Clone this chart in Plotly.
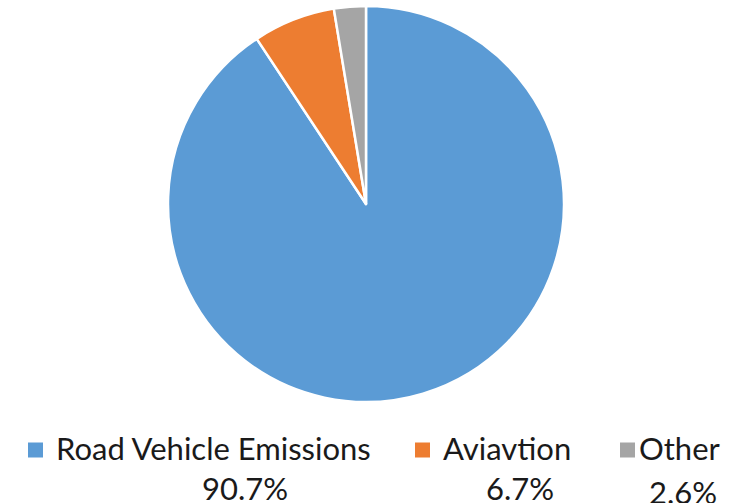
import plotly.graph_objects as go

# Share of emissions by source
labels = ["Road Vehicle Emissions", "Aviavtion", "Other"]
values = [90.7, 6.7, 2.6]
colors = ["#5B9BD5", "#ED7D31", "#A5A5A5"]

W, H = 739, 503
FONT = "Lato"
FSIZE = 31


def px(x, y):
    """Convert pixel coordinates (origin top-left) to paper coordinates."""
    return x / W, 1 - y / H


fig = go.Figure(
    go.Pie(
        labels=labels,
        values=values,
        marker=dict(colors=colors, line=dict(color="white", width=2.5)),
        sort=False,
        direction="clockwise",
        rotation=0,
        textinfo="none",
        hoverinfo="label+percent",
        showlegend=False,
        domain=dict(x=[168 / W, 564 / W], y=[1 - 402 / H, 1 - 6 / H]),
    )
)

# Custom legend: swatch, name, and the value on a second line
marker_x = [28, 415, 620]
label_x = [54, 441, 637]
pct_cx = [245, 520, 683]
pct_cy = [488, 488, 492]
label_cy = 448
sw = 15

annotations = []
shapes = []
for lab, val, col, mx, lx, cx, cy in zip(labels, values, colors, marker_x, label_x, pct_cx, pct_cy):
    x0, y0 = px(mx, label_cy - sw / 2 + 2)
    x1, y1 = px(mx + sw, label_cy + sw / 2 + 2)
    shapes.append(dict(type="rect", xref="paper", yref="paper", x0=x0, x1=x1, y0=y1, y1=y0,
                       fillcolor=col, line=dict(width=0)))
    ax, ay = px(lx, label_cy)
    annotations.append(dict(text=lab, x=ax, y=ay, xref="paper", yref="paper", xanchor="left",
                            yanchor="middle", showarrow=False,
                            font=dict(family=FONT, size=FSIZE, color="#1a1a1a")))
    bx, by = px(cx, cy)
    annotations.append(dict(text=f"{val:.1f}%", x=bx, y=by, xref="paper", yref="paper",
                            xanchor="center", yanchor="middle", showarrow=False,
                            font=dict(family=FONT, size=FSIZE, color="#1a1a1a")))

fig.update_layout(
    width=W,
    height=H,
    margin=dict(l=0, r=0, t=0, b=0),
    paper_bgcolor="white",
    plot_bgcolor="white",
    annotations=annotations,
    shapes=shapes,
)

fig.write_html("out.html")
